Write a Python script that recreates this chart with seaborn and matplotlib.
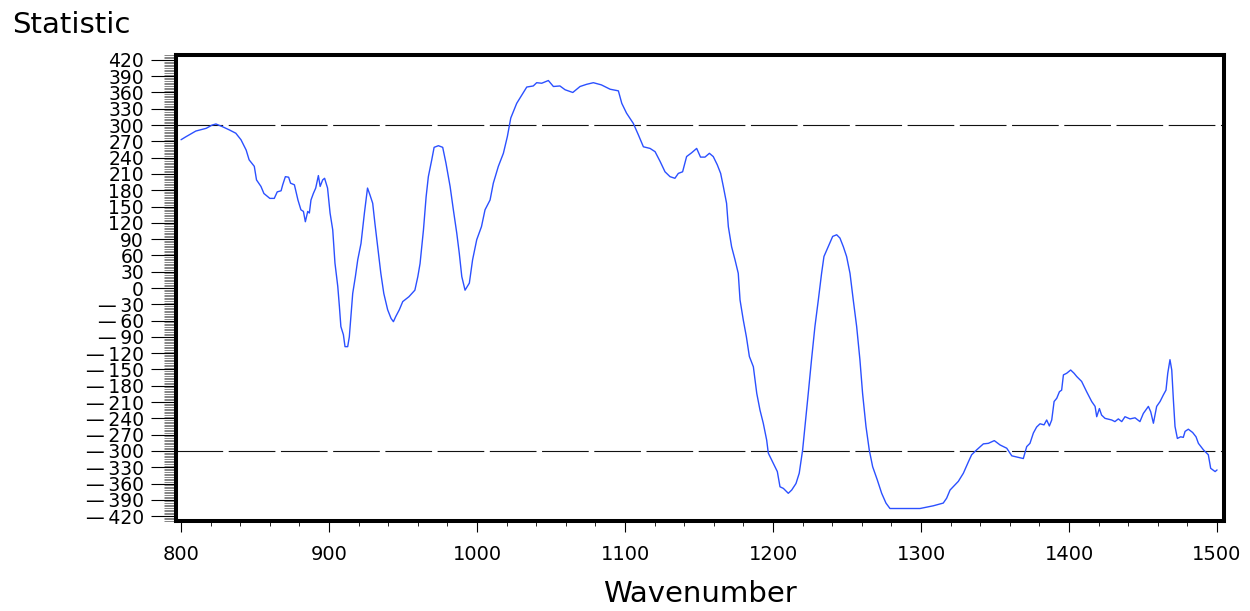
import matplotlib
matplotlib.use("Agg")
import matplotlib.pyplot as plt
import seaborn as sns
import pandas as pd
from matplotlib.ticker import MultipleLocator

# Spectrum statistic versus wavenumber
wavenumber = [
    800, 803, 810, 817, 821, 823.6, 828, 832.7, 837, 840.5,
    844, 846, 849.5, 851, 854, 856, 860, 863, 865, 867.6,
    868.7, 870.5, 872.7, 874, 876.6, 879, 881, 882.7, 884, 885.6,
    886.7, 887.8, 889.4, 891, 892.8, 894, 895.7, 897, 899, 900.7,
    902.5, 904, 905.9, 907, 908, 909.7, 910.8, 912.6, 913.7, 916,
    917.8, 919.4, 921.6, 923.9, 926, 927.7, 929.5, 931, 932.9, 935,
    937, 939.6, 941.9, 943.5, 945, 947.5, 949.8, 954, 958, 960,
    961.5, 963.8, 965.6, 967.1, 969.4, 971, 973.9, 976.8, 979, 981.8,
    984, 986.3, 988, 989.7, 991.9, 994.8, 997, 999.8, 1003, 1005.4,
    1008.8, 1011, 1014.4, 1017.8, 1020.5, 1022.8, 1026.8, 1030, 1033.6, 1038,
    1040.3, 1043.7, 1048.2, 1051.6, 1056, 1059.5, 1064.7, 1069.6, 1074, 1078.6,
    1084, 1089.9, 1095.5, 1097.8, 1101, 1105.6, 1109, 1112.4, 1116.9, 1120.3,
    1123.7, 1127, 1130.4, 1133.7, 1136, 1138.9, 1141.6, 1145, 1148.4, 1151,
    1154, 1157, 1159.6, 1162.3, 1164.6, 1166.4, 1168.6, 1169.8, 1172, 1174.3,
    1176.5, 1177.7, 1179.9, 1182, 1184, 1186.7, 1189, 1191.2, 1193.4, 1195.7,
    1196.8, 1200.2, 1202.9, 1204.7, 1207, 1210.3, 1212.6, 1215.5, 1217.7, 1220,
    1221.6, 1223.8, 1226, 1228.3, 1230.6, 1232.8, 1234.4, 1237.3, 1240.3, 1243,
    1245.2, 1247.5, 1249.7, 1252, 1254.2, 1256.5, 1258.7, 1260.5, 1262.8, 1265,
    1267.3, 1270.4, 1273.4, 1276.3, 1279, 1299.3, 1308.3, 1315, 1317.3, 1319.6,
    1325.2, 1328.6, 1332, 1334.2, 1337.6, 1342.1, 1345.5, 1349.5, 1353.4, 1357.9,
    1361.3, 1365.8, 1369.1, 1371.4, 1373.6, 1375.9, 1378.1, 1380.4, 1383.1, 1384.9,
    1386.7, 1388.3, 1389.9, 1391.7, 1393.5, 1395, 1396.2, 1398.4, 1401.1, 1403.4,
    1405.2, 1408.5, 1411.9, 1415.3, 1417.6, 1418.7, 1420.5, 1422, 1424.3, 1428.8,
    1431, 1433.3, 1435.6, 1437.8, 1441.2, 1444.6, 1447.9, 1450.2, 1453.6, 1455.2,
    1457, 1459.2, 1461.5, 1463.7, 1465.5, 1466.7, 1468.2, 1469.4, 1470.5, 1471.6,
    1473.2, 1475.4, 1477.2, 1478.4, 1480.6, 1483.5, 1485.8, 1487.4, 1490.8, 1494.1,
    1495.7, 1498.7, 1500,
]

statistic = [
    273, 278, 289, 294, 300, 302, 297, 291, 285, 273,
    254, 236, 224, 199, 187, 174, 165, 165, 177, 179,
    190, 205, 204, 193, 190, 162, 144, 141, 122, 141,
    138, 162, 174, 184, 207, 187, 199, 202, 184, 138,
    107, 46, 3, -34, -71, -86, -108, -108, -90, -10,
    21, 52, 82, 138, 184, 171, 156, 119, 76, 27,
    -10, -40, -56, -62, -53, -40, -25, -16, -4, 21,
    45, 107, 168, 205, 236, 259, 262, 259, 230, 187,
    144, 101, 64, 21, -4, 9, 52, 89, 113, 144,
    162, 193, 224, 248, 279, 313, 340, 354, 370, 372,
    378, 377, 382, 371, 372, 365, 360, 371, 375, 378,
    374, 366, 363, 340, 322, 303, 282, 260, 257, 251,
    233, 214, 205, 202, 211, 214, 242, 249, 257, 241,
    241, 248, 242, 227, 211, 187, 156, 113, 76, 52,
    27, -22, -59, -90, -126, -145, -194, -225, -249, -280,
    -304, -323, -338, -366, -369, -378, -372, -360, -341, -298,
    -255, -194, -132, -71, -22, 27, 58, 76, 95, 98,
    92, 76, 58, 27, -22, -71, -132, -194, -255, -298,
    -329, -353, -378, -396, -406, -406, -401, -396, -387, -372,
    -356, -341, -320, -307, -298, -287, -286, -281, -289, -295,
    -309, -312, -314, -292, -286, -267, -256, -250, -252, -243,
    -254, -243, -209, -203, -191, -188, -160, -157, -151, -157,
    -163, -172, -191, -209, -218, -237, -222, -234, -240, -243,
    -246, -241, -246, -237, -241, -239, -246, -231, -218, -228,
    -249, -218, -209, -197, -188, -157, -132, -151, -206, -255,
    -277, -274, -275, -264, -260, -266, -274, -286, -298, -307,
    -332, -338, -335,
]

# Critical limits drawn as dashed reference lines
reference_levels = [300, -300]

x_ticks = [800, 900, 1000, 1100, 1200, 1300, 1400, 1500]
x_tick_labels = ["800", "900", "1000", "1100", "1200", "1300", "1400", "1500"]
y_ticks = list(range(420, -421, -30))
y_tick_labels = [str(v) if v >= 0 else "\u2014\u2009" + str(-v) for v in y_ticks]

sns.set_style("white")
plt.rcParams["font.family"] = ["DejaVu Sans"]
plt.rcParams["text.color"] = "black"
plt.rcParams["axes.labelcolor"] = "black"
plt.rcParams["xtick.color"] = "black"
plt.rcParams["ytick.color"] = "black"

fig = plt.figure(figsize=(12.5, 6.11), dpi=100)
ax = fig.add_axes([176 / 1250, 1 - 521 / 611, 1048 / 1250, 466 / 611])

df = pd.DataFrame({"Wavenumber": wavenumber, "Statistic": statistic})
sns.lineplot(data=df, x="Wavenumber", y="Statistic", ax=ax,
             color="#2b50ff", linewidth=1.0, sort=False, estimator=None)

for level in reference_levels:
    ax.axhline(level, color="#111111", linewidth=0.8, dashes=(42, 5), zorder=1)

ax.set_xlim(796.6, 1504.7)
ax.set_ylim(-429, 429)

ax.set_xticks(x_ticks)
ax.set_xticklabels(x_tick_labels)
ax.xaxis.set_minor_locator(MultipleLocator(20))
ax.set_yticks(y_ticks)
ax.set_yticklabels(y_tick_labels)
ax.yaxis.set_minor_locator(MultipleLocator(3))

ax.tick_params(axis="x", which="major", direction="out", length=8, width=0.8,
               pad=9, labelsize=14, bottom=True, color="black", labelcolor="black")
ax.tick_params(axis="x", which="minor", direction="out", length=3.6, width=0.6,
               bottom=True, color="black")
ax.tick_params(axis="y", which="major", direction="out", length=18, width=0.8,
               pad=5, labelsize=13.5, left=True, color="black", labelcolor="black")
ax.tick_params(axis="y", which="minor", direction="out", length=8.6, width=0.5,
               left=True, color="#555555")

for spine in ax.spines.values():
    spine.set_visible(True)
    spine.set_color("black")
    spine.set_linewidth(2.9)

ax.set_xlabel("Wavenumber", fontsize=21, labelpad=12, color="black")
ax.set_ylabel("")
fig.text(12 / 1250, 1 - 33 / 611, "Statistic", fontsize=21,
         ha="left", va="baseline", color="black")

fig.savefig("out.png", dpi=100)
